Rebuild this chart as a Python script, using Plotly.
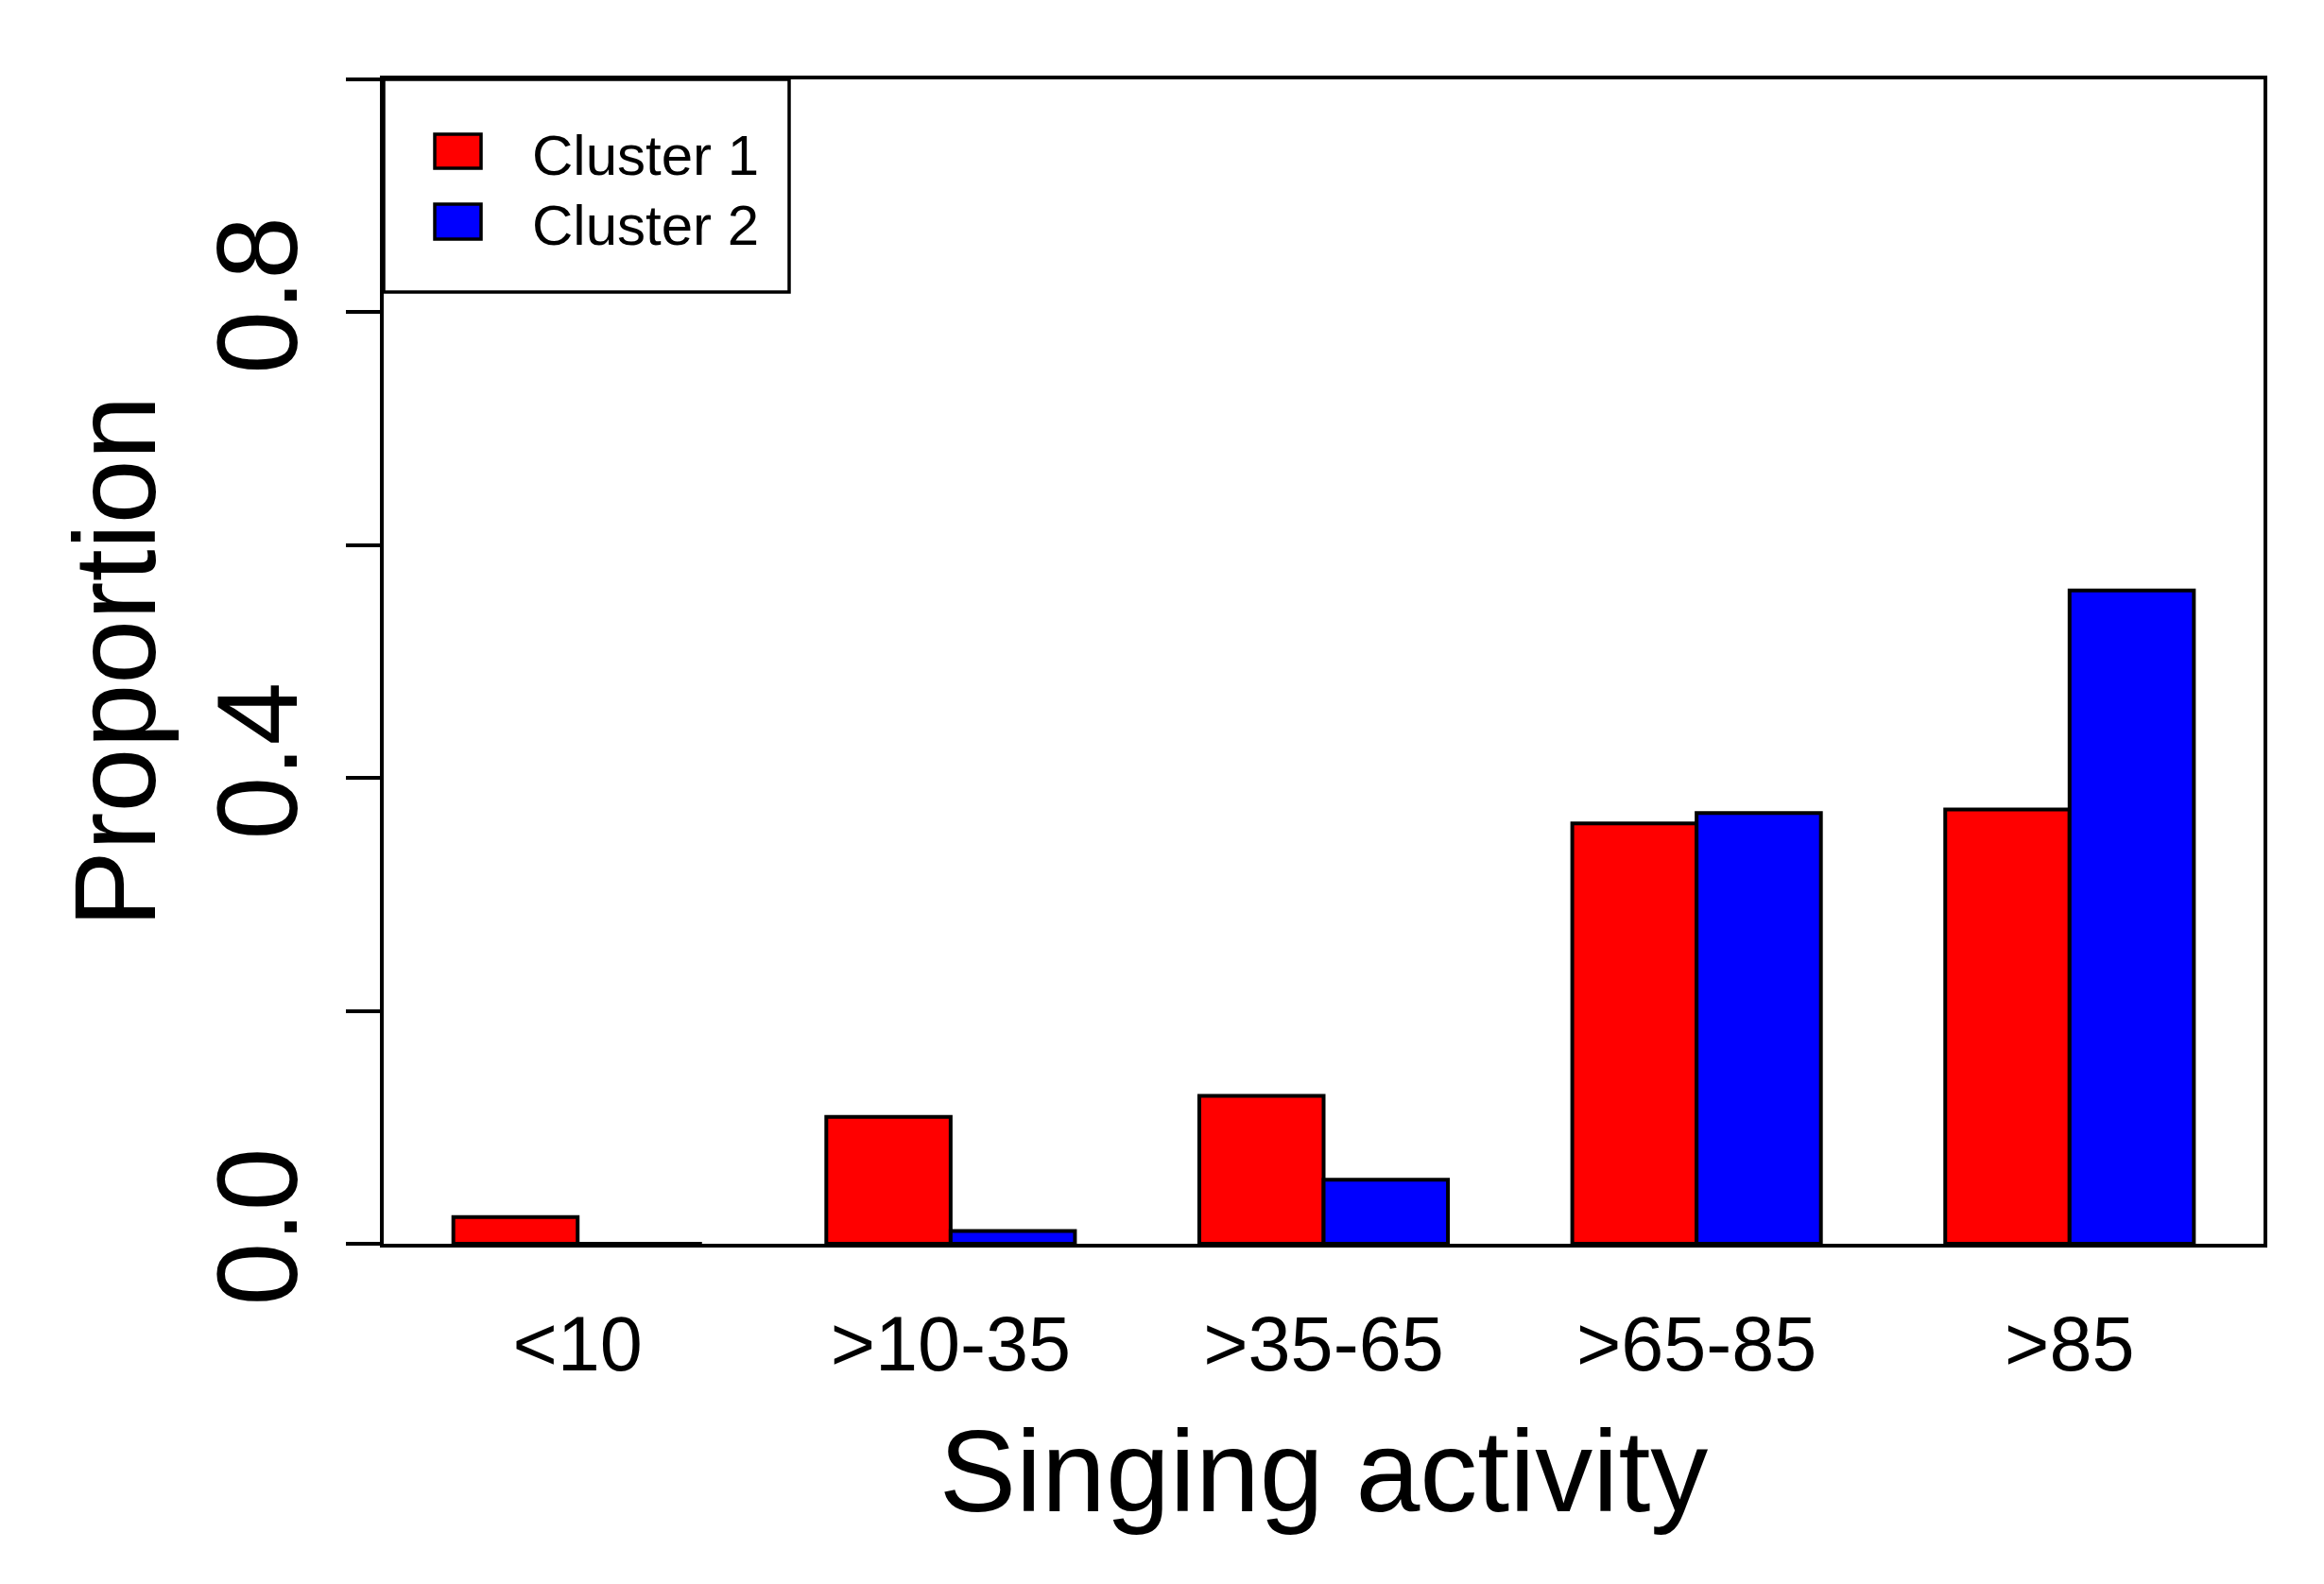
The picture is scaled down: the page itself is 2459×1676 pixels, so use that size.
import plotly.graph_objects as go

categories = ["<10", ">10-35", ">35-65", ">65-85", ">85"]
cluster1 = [0.023, 0.109, 0.127, 0.361, 0.373]
cluster2 = [0.0, 0.011, 0.055, 0.370, 0.561]
series_names = ["Cluster 1", "Cluster 2"]
series_colors = ["#FF0000", "#0000FF"]
y_tickvals = [0.0, 0.2, 0.4, 0.6, 0.8, 1.0]
y_ticktext = ["0.0", "", "0.4", "", "0.8", ""]

# page has an 8px body margin, so the figure is drawn 8px in from the window edge
OFF = 8
W, H = 2459 - OFF, 1676 - OFF
L, R, T, B = 406 - OFF, 64, 84 - OFF, 360
PW, PH = W - L - R, H - T - B
FONT = "Liberation Sans, Arial, sans-serif"


def px_x(px):  # window pixel -> paper x
    return (px - OFF - L) / PW


def px_y(py):  # window pixel -> paper y
    return (H - B - (py - OFF)) / PH


fig = go.Figure()
for name, vals, col in zip(series_names, [cluster1, cluster2], series_colors):
    fig.add_trace(go.Bar(
        x=categories, y=vals, name=name,
        marker=dict(color=col, line=dict(color="black", width=4)),
        showlegend=False,
    ))

fig.update_layout(
    width=W, height=H, autosize=False,
    margin=dict(l=L, r=R, t=T, b=B, pad=0),
    paper_bgcolor="white", plot_bgcolor="white",
    barmode="group", bargap=1/3, bargroupgap=0,
    font=dict(family=FONT, color="black"),
    xaxis=dict(
        type="category", range=[-0.52, 4.52],
        showline=True, mirror=True, linecolor="black", linewidth=4,
        showgrid=False, zeroline=False, ticks="",
        tickfont=dict(size=81, family=FONT, color="black"),
        ticklabelstandoff=33,
        title=dict(text="Singing activity", font=dict(size=122, family=FONT, color="black"), standoff=48),
    ),
    yaxis=dict(
        range=[0, 1.0],
        showline=True, mirror=True, linecolor="black", linewidth=4,
        showgrid=False, zeroline=False,
        ticks="outside", ticklen=36, tickwidth=3.5, tickcolor="black",
        tickvals=y_tickvals, ticktext=y_ticktext, tickangle=-90,
        tickfont=dict(size=120, family=FONT, color="black"),
        ticklabelstandoff=4,
        title=dict(text="Proportion", font=dict(size=122, family=FONT, color="black"), standoff=0),
    ),
)

# Legend box (drawn manually to match the reference's large swatches)
shapes = [
    dict(type="rect", xref="paper", yref="paper",
         x0=px_x(406), x1=px_x(835), y0=px_y(309), y1=px_y(84),
         line=dict(color="black", width=3.5), fillcolor="white", layer="above"),
]
legend_rows = [(142, 178, 164.5), (216, 253, 238.5)]
for (y0, y1, yc), name, col in zip(legend_rows, series_names, series_colors):
    shapes.append(dict(type="rect", xref="paper", yref="paper",
                       x0=px_x(460), x1=px_x(509), y0=px_y(y1), y1=px_y(y0),
                       line=dict(color="black", width=3.5), fillcolor=col, layer="above"))
    fig.add_annotation(xref="paper", yref="paper", x=px_x(562), y=px_y(yc),
                       xanchor="left", yanchor="middle", showarrow=False,
                       text=name, font=dict(size=60, family=FONT, color="black"),
                       borderpad=0)
fig.update_layout(shapes=shapes)

fig.write_html("out.html")
